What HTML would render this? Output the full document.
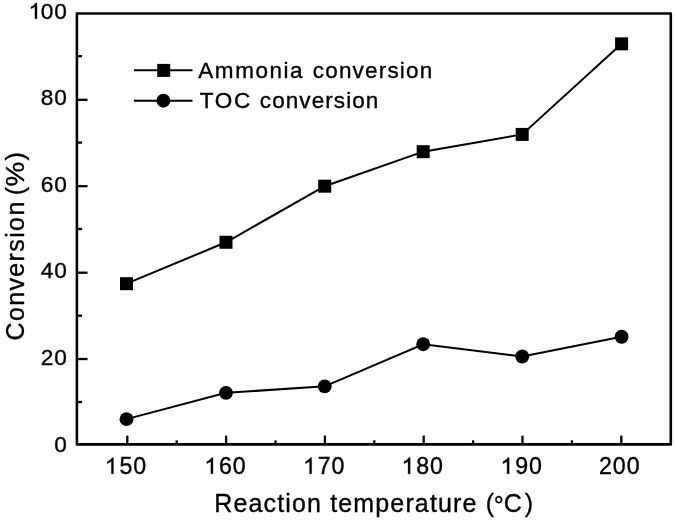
<!DOCTYPE html>
<html><head><meta charset="utf-8"><title>Conversion vs reaction temperature</title>
<style>
html,body{margin:0;padding:0;background:#fff;}
body{width:675px;height:521px;overflow:hidden;}
svg{display:block;filter:blur(0.4px);}
text{font-family:"Liberation Sans",sans-serif;fill:#000;stroke:#000;stroke-width:0.35px;}
</style></head><body>
<svg width="675" height="521" viewBox="0 0 675 521">
<rect x="0" y="0" width="675" height="521" fill="#fff"/>
<rect x="76.90" y="13.50" width="593.90" height="430.90" fill="none" stroke="#000" stroke-width="2.6" stroke-linejoin="round"/>
<line x1="76.90" y1="56.20" x2="82.10" y2="56.20" stroke="#000" stroke-width="2.3"/>
<line x1="76.90" y1="99.80" x2="87.50" y2="99.80" stroke="#000" stroke-width="2.3"/>
<line x1="76.90" y1="142.60" x2="82.10" y2="142.60" stroke="#000" stroke-width="2.3"/>
<line x1="76.90" y1="186.20" x2="87.50" y2="186.20" stroke="#000" stroke-width="2.3"/>
<line x1="76.90" y1="229.00" x2="82.10" y2="229.00" stroke="#000" stroke-width="2.3"/>
<line x1="76.90" y1="272.70" x2="87.50" y2="272.70" stroke="#000" stroke-width="2.3"/>
<line x1="76.90" y1="315.70" x2="82.10" y2="315.70" stroke="#000" stroke-width="2.3"/>
<line x1="76.90" y1="359.00" x2="87.50" y2="359.00" stroke="#000" stroke-width="2.3"/>
<line x1="76.90" y1="402.00" x2="82.10" y2="402.00" stroke="#000" stroke-width="2.3"/>
<line x1="127.30" y1="444.40" x2="127.30" y2="435.60" stroke="#000" stroke-width="2.3"/>
<line x1="176.70" y1="444.40" x2="176.70" y2="440.30" stroke="#000" stroke-width="2.3"/>
<line x1="226.10" y1="444.40" x2="226.10" y2="435.60" stroke="#000" stroke-width="2.3"/>
<line x1="275.50" y1="444.40" x2="275.50" y2="440.30" stroke="#000" stroke-width="2.3"/>
<line x1="324.90" y1="444.40" x2="324.90" y2="435.60" stroke="#000" stroke-width="2.3"/>
<line x1="374.30" y1="444.40" x2="374.30" y2="440.30" stroke="#000" stroke-width="2.3"/>
<line x1="423.70" y1="444.40" x2="423.70" y2="435.60" stroke="#000" stroke-width="2.3"/>
<line x1="473.10" y1="444.40" x2="473.10" y2="440.30" stroke="#000" stroke-width="2.3"/>
<line x1="522.50" y1="444.40" x2="522.50" y2="435.60" stroke="#000" stroke-width="2.3"/>
<line x1="571.90" y1="444.40" x2="571.90" y2="440.30" stroke="#000" stroke-width="2.3"/>
<line x1="621.30" y1="444.40" x2="621.30" y2="435.60" stroke="#000" stroke-width="2.3"/>
<polyline fill="none" stroke="#000" stroke-width="2" points="126.50,283.69 226.00,242.27 324.70,186.19 423.20,151.68 522.20,134.42 621.60,43.83"/>
<polyline fill="none" stroke="#000" stroke-width="2" points="126.50,419.15 226.00,392.83 324.70,386.36 423.20,344.21 522.20,356.51 621.60,336.75"/>
<rect x="120.00" y="277.19" width="13.0" height="13.0" fill="#000"/>
<rect x="219.50" y="235.77" width="13.0" height="13.0" fill="#000"/>
<rect x="318.20" y="179.69" width="13.0" height="13.0" fill="#000"/>
<rect x="416.70" y="145.18" width="13.0" height="13.0" fill="#000"/>
<rect x="515.70" y="127.92" width="13.0" height="13.0" fill="#000"/>
<rect x="615.10" y="37.33" width="13.0" height="13.0" fill="#000"/>
<circle cx="126.50" cy="419.15" r="6.95" fill="#000"/>
<circle cx="226.00" cy="392.83" r="6.95" fill="#000"/>
<circle cx="324.70" cy="386.36" r="6.95" fill="#000"/>
<circle cx="423.20" cy="344.21" r="6.95" fill="#000"/>
<circle cx="522.20" cy="356.51" r="6.95" fill="#000"/>
<circle cx="621.60" cy="336.75" r="6.95" fill="#000"/>
<line x1="133.9" y1="70.3" x2="192.5" y2="70.3" stroke="#000" stroke-width="2"/>
<rect x="157.2" y="63.9" width="13" height="13" fill="#000"/>
<line x1="133.9" y1="100.7" x2="192.5" y2="100.7" stroke="#000" stroke-width="2"/>
<circle cx="163.4" cy="100.7" r="6.95" fill="#000"/>
<text id="lg1" y="78.1" font-size="22.5"><tspan x="198.3" letter-spacing="1.55">Ammonia</tspan><tspan x="312.8" letter-spacing="1.18">conversion</tspan></text>
<text id="lg2" y="108.1" font-size="22.5"><tspan x="199.7" letter-spacing="1.7">TOC</tspan><tspan x="259.8" letter-spacing="1.08">conversion</tspan></text>
<path d="M763 0H583V1147Q518 1085 412 1023T223 930V1104Q374 1175 487 1276T647 1472H763Z" transform="translate(28.50,18.80) scale(0.01108,-0.01070)" fill="#000" stroke="#000" stroke-width="31.6"/>
<text id="yl100" x="67.6" y="18.80" font-size="22.7" letter-spacing="0.8" text-anchor="end">00</text>
<text id="yl80" x="67.6" y="105.10" font-size="22.7" letter-spacing="0.8" text-anchor="end">80</text>
<text id="yl60" x="67.6" y="192.10" font-size="22.7" letter-spacing="0.8" text-anchor="end">60</text>
<text id="yl40" x="67.6" y="278.40" font-size="22.7" letter-spacing="0.8" text-anchor="end">40</text>
<text id="yl20" x="67.6" y="364.70" font-size="22.7" letter-spacing="0.8" text-anchor="end">20</text>
<text id="yl0" x="67.6" y="451.90" font-size="22.7" letter-spacing="0.8" text-anchor="end">0</text>
<path d="M763 0H583V1147Q518 1085 412 1023T223 930V1104Q374 1175 487 1276T647 1472H763Z" transform="translate(104.80,473.80) scale(0.01133,-0.01093)" fill="#000" stroke="#000" stroke-width="30.9"/>
<text id="xl150" x="119.60" y="473.8" font-size="23.2" letter-spacing="0.85">50</text>
<path d="M763 0H583V1147Q518 1085 412 1023T223 930V1104Q374 1175 487 1276T647 1472H763Z" transform="translate(204.30,473.80) scale(0.01133,-0.01093)" fill="#000" stroke="#000" stroke-width="30.9"/>
<text id="xl160" x="219.10" y="473.8" font-size="23.2" letter-spacing="0.85">60</text>
<path d="M763 0H583V1147Q518 1085 412 1023T223 930V1104Q374 1175 487 1276T647 1472H763Z" transform="translate(303.00,473.80) scale(0.01133,-0.01093)" fill="#000" stroke="#000" stroke-width="30.9"/>
<text id="xl170" x="317.80" y="473.8" font-size="23.2" letter-spacing="0.85">70</text>
<path d="M763 0H583V1147Q518 1085 412 1023T223 930V1104Q374 1175 487 1276T647 1472H763Z" transform="translate(401.50,473.80) scale(0.01133,-0.01093)" fill="#000" stroke="#000" stroke-width="30.9"/>
<text id="xl180" x="416.30" y="473.8" font-size="23.2" letter-spacing="0.85">80</text>
<path d="M763 0H583V1147Q518 1085 412 1023T223 930V1104Q374 1175 487 1276T647 1472H763Z" transform="translate(500.50,473.80) scale(0.01133,-0.01093)" fill="#000" stroke="#000" stroke-width="30.9"/>
<text id="xl190" x="515.30" y="473.8" font-size="23.2" letter-spacing="0.85">90</text>
<text id="xl200" x="619.80" y="473.8" font-size="23.2" letter-spacing="0.95" text-anchor="middle">200</text>
<text id="xt" x="214.2" y="511.6" font-size="25" letter-spacing="1.15">Reaction temperature (<tspan dx="-1.5" dy="2.2">°</tspan><tspan dx="-1" dy="-2.2">C</tspan><tspan dx="1.6">)</tspan></text>
<text id="yt" transform="translate(24.30,340.50) rotate(-90) scale(1.000,1)" font-size="25" letter-spacing="1.37">Conversion</text>
<text id="yt1" transform="translate(24.30,195.30) rotate(-90) scale(1.000,1)" font-size="25" letter-spacing="0.00">(</text>
<text id="yt2" transform="translate(24.30,186.40) rotate(-90) scale(1.110,1)" font-size="25" letter-spacing="0.00">%</text>
<text id="yt3" transform="translate(24.30,160.50) rotate(-90) scale(1.000,1)" font-size="25" letter-spacing="0.00">)</text>
</svg>
</body></html>
